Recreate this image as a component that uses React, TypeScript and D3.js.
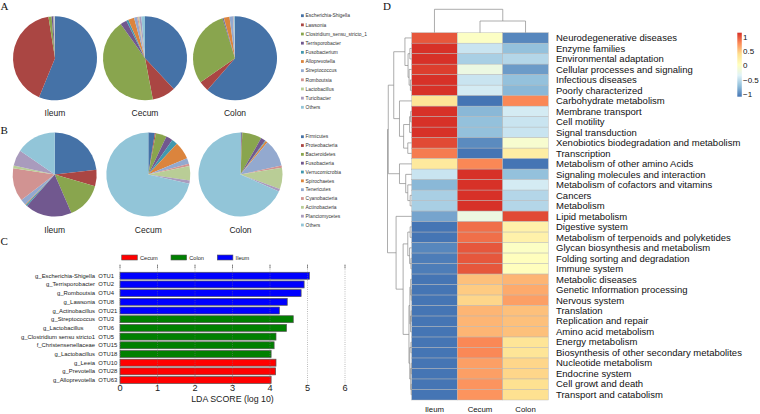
import React from 'react';
import * as d3 from 'd3';

// ---------------- Panel A / B data ----------------
const pieSites = ['Ileum', 'Cecum', 'Colon'];

const genusNames = ['Escherichia-Shigella', 'Lawsonia', 'Clostridium_sensu_stricto_1', 'Terrisporobacter', 'Fusobacterium', 'Alloprevotella', 'Streptococcus', 'Romboutsia', 'Lactobacillus', 'Turicibacter', 'Others'];
const genusIleum = [56.2, 41.3, 1.2, 0.6, 0.1, 0.1, 0.1, 0.1, 0.1, 0.1, 0.1];
const genusCecum = [38.0, 9.0, 43.2, 2.5, 0.8, 2.3, 1.2, 0.4, 0.4, 0.8, 1.4];
const genusColon = [61.4, 3.9, 29.9, 0.4, 0.1, 2.2, 1.3, 0.1, 0.1, 0.2, 0.4];

const phylumNames = ['Firmicutes', 'Proteobacteria', 'Bacteroidetes', 'Fusobacteria', 'Verrucomicrobia', 'Spirochaetes', 'Tenericutes', 'Cyanobacteria', 'Actinobacteria', 'Planctomycetes', 'Others'];
const phylumIleum = [23.2, 6.3, 14.0, 18.0, 0.6, 0.3, 2.2, 12.8, 1.0, 6.2, 15.4];
const phylumCecum = [2.5, 0.4, 4.2, 2.6, 2.2, 6.8, 2.2, 0.9, 5.5, 1.2, 71.5];
const phylumColon = [0.5, 0.2, 7.5, 1.8, 0.3, 0.8, 10.5, 0.8, 8.2, 1.0, 68.4];

const officePalette = ['#4572A7', '#AA4643', '#89A54E', '#71588F', '#4198AF', '#DB843D', '#93A9CF', '#D19392', '#B9CD96', '#A99BBD', '#92C5D8'];

// ---------------- Panel C data ----------------
const ldaTaxa = ['g_Escherichia-Shigella', 'g_Terrisporobacter', 'g_Romboutsia', 'g_Lawsonia', 'g_Actinobacillus', 'g_Streptococcus', 'g_Lactobacillus\u00a0\u00a0\u00a0\u00a0\u00a0\u00a0\u00a0', 'g_Clostridium sensu stricto1', 'f_Christensenellaceae', 'g_Lactobacillus', 'g_Leeia', 'g_Prevotella', 'g_Alloprevotella'];
const ldaOtus = ['OTU1', 'OTU2', 'OTU4', 'OTU8', 'OTU21', 'OTU3', 'OTU6', 'OTU5', 'OTU15', 'OTU18', 'OTU10', 'OTU28', 'OTU63'];
const ldaScores = [5.05, 4.91, 4.83, 4.46, 4.25, 4.62, 4.44, 4.16, 4.11, 4.03, 4.16, 4.15, 4.03];
const ldaGroups = ['Ileum', 'Ileum', 'Ileum', 'Ileum', 'Ileum', 'Colon', 'Colon', 'Colon', 'Colon', 'Colon', 'Cecum', 'Cecum', 'Cecum'];
const ldaLegend = ['Cecum', 'Colon', 'Ileum'];
const ldaTicks = [0, 1, 2, 3, 4, 5, 6];
const ldaColors: Record<string, string> = { Cecum: '#ff0000', Colon: '#008000', Ileum: '#0000ff' };

// ---------------- Panel D data ----------------
const pathways = ['Neurodegenerative diseases', 'Enzyme families', 'Environmental adaptation', 'Cellular processes and signaling', 'Infectious diseases', 'Poorly characterized', 'Carbohydrate metabolism', 'Membrane transport', 'Cell motility', 'Signal transduction', 'Xenobiotics biodegradation and metabolism', 'Transcription', 'Metabolism of other amino Acids', 'Signaling molecules and interaction', 'Metabolism of cofactors and vitamins', 'Cancers', 'Metabolism', 'Lipid metabolism', 'Digestive system', 'Metabolism of terpenoids and polyketides', 'Glycan biosynthesis and metabolism', 'Folding sorting and degradation', 'Immune system', 'Metabolic diseases', 'Genetic Information processing', 'Nervous system', 'Translation', 'Replication and repair', 'Amino acid metabolism', 'Energy metabolism', 'Biosynthesis of other secondary metabolites', 'Nucleotide metabolism', 'Endocrine system', 'Cell growt and death', 'Transport and catabolism'];
const heatCols = ['Ileum', 'Cecum', 'Colon'];
const zIleum = [1.0, 1.15, 1.15, 1.1, 1.15, 1.15, 0.35, 1.15, 1.15, 1.15, 1.05, 0.85, 0.3, -0.45, -0.75, -0.6, -0.6, -0.85, -1.1, -1.1, -1.0, -1.05, -1.05, -1.15, -1.15, -1.15, -1.15, -1.15, -1.15, -1.15, -1.15, -1.15, -1.15, -1.15, -1.15];
const zCecum = [0.0, -0.45, -0.6, -0.2, -0.45, -0.4, -1.15, -0.75, -0.7, -0.7, -0.98, -1.1, 0.8, 1.15, 1.15, 1.15, 1.15, -0.2, 0.9, 0.9, 1.0, 1.0, 1.0, 0.55, 0.5, 0.45, 0.6, 0.6, 0.6, 0.8, 0.8, 0.7, 0.7, 0.75, 0.75];
const zColon = [-1.0, -0.7, -0.55, -0.9, -0.7, -0.75, 0.8, -0.4, -0.45, -0.45, -0.07, 0.25, -1.1, -0.7, -0.4, -0.55, -0.55, 1.05, 0.2, 0.2, 0.0, 0.05, 0.05, 0.6, 0.65, 0.7, 0.55, 0.55, 0.55, 0.35, 0.35, 0.45, 0.45, 0.4, 0.4];
const zLegendTicks = [1, 0.5, 0, -0.5, -1];
const zRange = [-1.09, 1.155];
const rdylbu = ['#4575B4', '#91BFDB', '#E0F3F8', '#FFFFBF', '#FEE090', '#FC8D59', '#D73027'];

// dendrograms: leaf = row index, node = [height, left, right]
type Tree = number | [number, Tree, Tree];
const rowTree: Tree = [9.3,
  [9.0,
    [6.9,
      [2.6, 0, [1.4, [0.7, 1, 2], [1.0, 3, [0.5, 4, 5]]]],
      [4.7, 6, [3.1, [0.8, [0.4, 7, 8], 9], [1.5, 10, 11]]]],
    [4.7, 12, [2.3, 13, [1.5, 14, [0.6, 15, 16]]]]],
  [6.0, 17,
    [3.3,
      [1.5, [0.6, 18, 19], [0.8, 20, [0.3, 21, 22]]],
      [1.05,
        [0.7, [0.4, 23, [0.2, 24, 25]], [0.45, [0.2, 26, 27], 28]],
        [0.75, [0.3, 29, 30], [0.4, [0.2, 31, 32], [0.2, 33, 34]]]]]]];
const colTree: Tree = [2, 0, [1, 1, 2]];

type Seg = { x1: number; y1: number; x2: number; y2: number };
function treeSegments(t: Tree, leafPos: (i: number) => number, hPos: (h: number) => number, horizontal: boolean): Seg[] {
  const segs: Seg[] = [];
  const mk = (a: number, b: number, c: number, d: number) =>
    horizontal ? { x1: a, y1: b, x2: c, y2: d } : { x1: b, y1: a, x2: d, y2: c };
  const walk = (n: Tree): { p: number; h: number } => {
    if (typeof n === 'number') return { p: leafPos(n), h: 0 };
    const [h, l, r] = n;
    const a = walk(l);
    const b = walk(r);
    const hx = hPos(h);
    segs.push(mk(hx, a.p, hx, b.p));
    segs.push(mk(hx, a.p, hPos(a.h), a.p));
    segs.push(mk(hx, b.p, hPos(b.h), b.p));
    return { p: (a.p + b.p) / 2, h };
  };
  walk(t);
  return segs;
}

const sans = '"Liberation Sans", Arial, Helvetica, sans-serif';
const serif = '"Liberation Serif", "Times New Roman", serif';

function PiePanel({ values, names, centers, cy, labelY, legendY0, legendStep }: any) {
  const pie = d3.pie<number>().sort(null).value(d => d);
  const arc = d3.arc<d3.PieArcDatum<number>>().innerRadius(0).outerRadius(42);
  return (
    <g>
      {values.map((vals: number[], k: number) => (
        <g key={k} transform={`translate(${centers[k]},${cy})`}>
          {pie(vals).map((d, i) => (
            <path key={i} d={arc(d) as string} fill={officePalette[i]} />
          ))}
        </g>
      ))}
      {pieSites.map((s, k) => (
        <text key={s} x={centers[k]} y={labelY} textAnchor="middle" fontSize={8.5} fontFamily={sans} fill="#222">{s}</text>
      ))}
      {names.map((n: string, i: number) => (
        <g key={n} transform={`translate(301,${legendY0 + i * legendStep})`}>
          <rect x={0} y={-1.4} width={2.8} height={2.8} fill={officePalette[i]} />
          <text x={4.6} y={1.7} fontSize={4.9} fontFamily={sans} fill="#333">{n}</text>
        </g>
      ))}
    </g>
  );
}

export default function App() {
  const W = 760, H = 414;

  // ---- Panel C scales ----
  const xL = d3.scaleLinear().domain([0, 6]).range([120, 345]);
  const yL = d3.scaleBand<number>().domain(d3.range(ldaScores.length)).range([271.4, 384.4]).paddingInner(0.2).paddingOuter(0.1);

  // ---- Panel D scales ----
  const heatLeft = 411.7, heatRight = 548.3, heatTop = 32.7, heatBottom = 400;
  const xH = d3.scaleBand<number>().domain(d3.range(heatCols.length)).range([heatLeft, heatRight]);
  const yH = d3.scaleBand<number>().domain(d3.range(pathways.length)).range([heatTop, heatBottom]);
  const zStops = d3.range(rdylbu.length).map(i => zRange[0] + (zRange[1] - zRange[0]) * i / (rdylbu.length - 1));
  const color = d3.scaleLinear<string>().domain(zStops).range(rdylbu).interpolate(d3.interpolateRgb).clamp(true);
  const zMatrix = [zIleum, zCecum, zColon];
  const legendY = d3.scaleLinear().domain(zRange).range([96.7, 32.7]);

  const rowH = d3.scaleLinear().domain([0, 9.3]).range([heatLeft, 387.5]);
  const rowSegs = treeSegments(rowTree, i => (yH(i) as number) + yH.bandwidth() / 2, h => rowH(h), true);
  const colH = d3.scaleLinear().domain([0, 2]).range([heatTop, 9.3]);
  const colSegs = treeSegments(colTree, i => (xH(i) as number) + xH.bandwidth() / 2, h => colH(h), false);

  const legendXs = [121.7, 171, 217.3];

  return (
    <svg width={W} height={H} viewBox={`0 0 ${W} ${H}`} style={{ position: 'absolute', left: 0, top: 0, background: '#fff' }}>
      <rect width={W} height={H} fill="#fff" />

      {/* Panel letters */}
      <text x={0.5} y={10} fontSize={11} fontFamily={serif} fill="#111">A</text>
      <text x={0.5} y={134} fontSize={11} fontFamily={serif} fill="#111">B</text>
      <text x={0.5} y={245} fontSize={11} fontFamily={serif} fill="#111">C</text>
      <text x={383} y={10} fontSize={11} fontFamily={serif} fill="#111">D</text>

      {/* Panel A */}
      <PiePanel values={[genusIleum, genusCecum, genusColon]} names={genusNames} centers={[55, 145, 235]} cy={58.3} labelY={115.5} legendY0={15.7} legendStep={9.16} />
      {/* Panel B */}
      <PiePanel values={[phylumIleum, phylumCecum, phylumColon]} names={phylumNames} centers={[54.7, 148.3, 240.5]} cy={174.5} labelY={233} legendY0={136.7} legendStep={8.83} />

      {/* Panel C */}
      <g>
        {ldaLegend.map((g, i) => (
          <g key={g}>
            <rect x={legendXs[i]} y={255} width={15.6} height={5} fill={ldaColors[g]} stroke="#555" strokeWidth={0.6} />
            <text x={legendXs[i] + 18.3} y={259.6} fontSize={5.6} fontFamily={sans} fill="#222">{g}</text>
          </g>
        ))}
        {ldaScores.map((v, i) => (
          <rect key={i} x={xL(0)} y={yL(i) as number} width={xL(v) - xL(0)} height={yL.bandwidth()} fill={ldaColors[ldaGroups[i]]} stroke="#555" strokeWidth={0.7} />
        ))}
        {ldaTicks.map(t => (
          <g key={t}>
            <line x1={xL(t)} x2={xL(t)} y1={265} y2={385} stroke="#777" strokeWidth={0.6} strokeDasharray="0.8,1.4" />
            <line x1={xL(t)} x2={xL(t)} y1={264.5} y2={268.5} stroke="#555" strokeWidth={0.6} />
            <text x={xL(t)} y={391} textAnchor="middle" fontSize={9.2} fontFamily={sans} fill="#222">{t}</text>
          </g>
        ))}
        {ldaTaxa.map((n, i) => (
          <g key={i}>
            <text x={95} y={(yL(i) as number) + yL.bandwidth() / 2 + 2} textAnchor="end" fontSize={5.9} fontFamily={sans} fill="#222" style={{ whiteSpace: 'pre' }}>{n}</text>
            <text x={98.3} y={(yL(i) as number) + yL.bandwidth() / 2 + 2} fontSize={5.9} fontFamily={sans} fill="#222">{ldaOtus[i]}</text>
          </g>
        ))}
        <text x={(xL(0) + xL(6)) / 2} y={402} textAnchor="middle" fontSize={8.8} fontFamily={sans} fill="#222">LDA SCORE (log 10)</text>
      </g>

      {/* Panel D */}
      <g>
        {zMatrix.map((col, c) => col.map((v, r) => (
          <rect key={`${c}-${r}`} x={xH(c) as number} y={yH(r) as number} width={xH.bandwidth()} height={yH.bandwidth()} fill={color(v)} stroke="#b5b5b5" strokeWidth={0.45} />
        )))}
        {rowSegs.map((s, i) => (
          <line key={`r${i}`} x1={s.x1} y1={s.y1} x2={s.x2} y2={s.y2} stroke="#8a8a8a" strokeWidth={0.7} />
        ))}
        {colSegs.map((s, i) => (
          <line key={`c${i}`} x1={s.x1} y1={s.y1} x2={s.x2} y2={s.y2} stroke="#8a8a8a" strokeWidth={0.7} />
        ))}
        {pathways.map((p, r) => (
          <text key={p + r} x={556} y={(yH(r) as number) + yH.bandwidth() / 2 + 3.2} fontSize={9.5} fontFamily={sans} fill="#111">{p}</text>
        ))}
        {heatCols.map((c, i) => (
          <text key={c} x={(xH(i) as number) + xH.bandwidth() / 2} y={411.5} textAnchor="middle" fontSize={7.8} fontFamily={sans} fill="#111">{c}</text>
        ))}
        <defs>
          <linearGradient id="zgrad" x1="0" y1="1" x2="0" y2="0">
            {zStops.map((z, i) => (
              <stop key={i} offset={`${(i / (zStops.length - 1)) * 100}%`} stopColor={color(z)} />
            ))}
          </linearGradient>
        </defs>
        <rect x={737.3} y={legendY(zRange[1])} width={4.5} height={legendY(zRange[0]) - legendY(zRange[1])} fill="url(#zgrad)" />
        {zLegendTicks.map(t => (
          <text key={t} x={743} y={legendY(t) + 2.8} fontSize={8} fontFamily={sans} fill="#111">{t < 0 ? `\u2212${Math.abs(t)}` : `${t}`}</text>
        ))}
      </g>
    </svg>
  );
}
